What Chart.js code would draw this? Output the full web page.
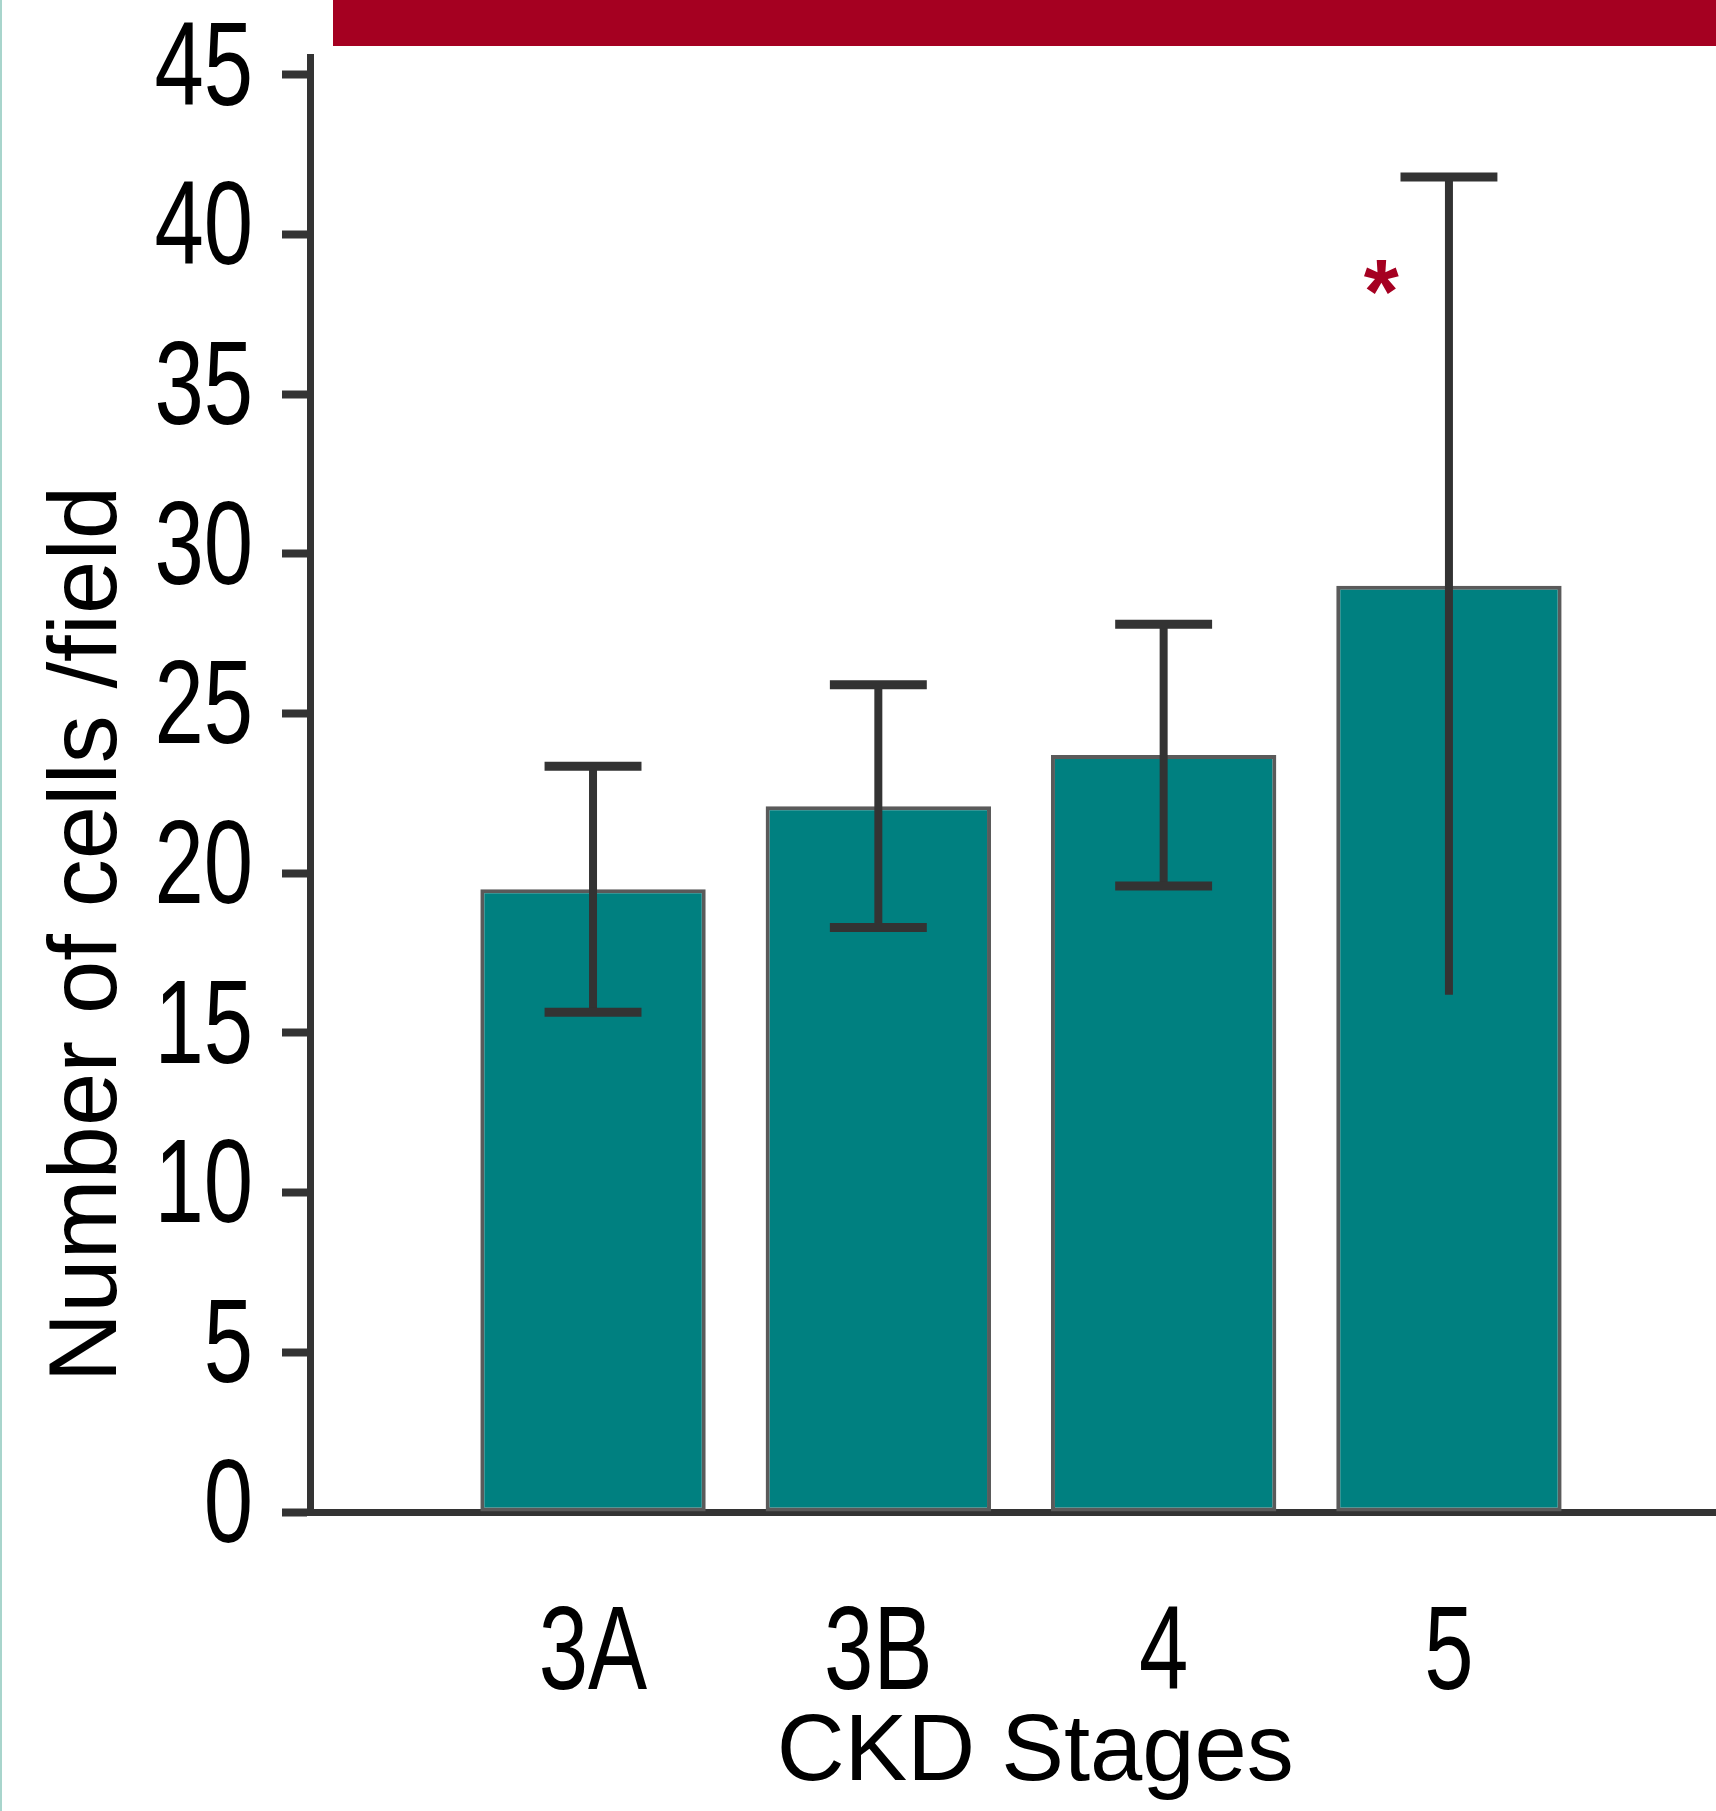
<!DOCTYPE html>
<html>
<head>
<meta charset="utf-8">
<script src="https://cdn.jsdelivr.net/npm/chart.js@4.4.1/dist/chart.umd.min.js"></script>
<style>
  html, body { margin: 0; padding: 0; overflow: hidden; background: #fff; }
  #wrap { position: relative; width: 1716px; height: 1811px; overflow: hidden; }
  #banner { position: absolute; left: 333px; top: 0; right: 0; height: 46px; background: #a50021; }
  #edge { position: absolute; left: 0; top: 0; width: 2px; height: 1811px; background: #a8d5cc; }
  canvas { position: absolute; left: 0; top: 0; }
</style>
</head>
<body>
<div id="wrap">
  <canvas id="chart" width="1716" height="1811" style="width:1716px;height:1811px"></canvas>
  <div id="banner"></div>
  <div id="edge"></div>
</div>
<script>
const stages = ['3A', '3B', '4', '5'];
const means = [19.5, 22.1, 23.7, 29.0];
const errors = [3.85, 3.8, 4.1, 12.8];
const lowerCaps = [true, true, true, false];
const marks = ['', '', '', '*'];
const yTicks = [0, 5, 10, 15, 20, 25, 30, 35, 40, 45];
const xTitle = 'CKD Stages';
const yTitle = 'Number of cells /field';

const regular = "'Liberation Sans', Arial, sans-serif";

// error bars and the significance mark, drawn after the bars
const errorBars = {
    id: 'errorBars',
    afterDatasetsDraw(chart) {
        const { ctx, scales: { y } } = chart;
        const meta = chart.getDatasetMeta(0);
        ctx.save();
        ctx.strokeStyle = '#333333';
        ctx.lineCap = 'butt';
        meta.data.forEach((bar, i) => {
            const top = y.getPixelForValue(means[i] + errors[i]);
            const bottom = y.getPixelForValue(means[i] - errors[i]);
            const half = bar.width * 0.215;
            ctx.lineWidth = 8;
            ctx.beginPath();
            ctx.moveTo(bar.x, top);
            ctx.lineTo(bar.x, bottom);
            ctx.stroke();
            ctx.lineWidth = 9;
            ctx.beginPath();
            ctx.moveTo(bar.x - half, top);
            ctx.lineTo(bar.x + half, top);
            if (lowerCaps[i]) {
                ctx.moveTo(bar.x - half, bottom);
                ctx.lineTo(bar.x + half, bottom);
            }
            ctx.stroke();
            if (marks[i]) {
                const my = y.getPixelForValue(means[i] + errors[i] * 0.74);
                ctx.fillStyle = '#a50021';
                ctx.font = 'bold 90px ' + regular;
                ctx.textAlign = 'center';
                ctx.textBaseline = 'alphabetic';
                ctx.fillText(marks[i], bar.x - bar.width * 0.3, my + 40);
            }
        });
        ctx.restore();
    }
};

// tick labels in a narrow face (squeezed Liberation Sans) and axis titles
const axisText = {
    id: 'axisText',
    afterDraw(chart) {
        const { ctx, chartArea, scales: { x, y } } = chart;
        const squeeze = 0.745;
        ctx.save();
        ctx.fillStyle = '#000';
        ctx.textBaseline = 'middle';

        ctx.font = '119px ' + regular;
        ctx.textAlign = 'right';
        yTicks.forEach(v => {
            ctx.save();
            ctx.translate(chartArea.left - 57, y.getPixelForValue(v) - 3);
            ctx.scale(squeeze, 1);
            ctx.fillText(String(v), 0, 0);
            ctx.restore();
        });
        ctx.textAlign = 'center';
        stages.forEach((s, i) => {
            ctx.save();
            ctx.translate(x.getPixelForValue(i + 1), chartArea.bottom + 144);
            ctx.scale(squeeze, 1);
            ctx.fillText(s, 0, 0);
            ctx.restore();
        });

        ctx.font = '94px ' + regular;
        ctx.fillText(xTitle, x.getPixelForValue(2.55), chartArea.bottom + 242);

        ctx.font = '96px ' + regular;
        ctx.translate(90, y.getPixelForValue(18.1));
        ctx.rotate(-Math.PI / 2);
        ctx.fillText(yTitle, 0, 0);
        ctx.restore();
    }
};

const ctx = document.getElementById('chart').getContext('2d');
new Chart(ctx, {
    type: 'bar',
    data: {
        datasets: [{
            data: stages.map((s, i) => ({ x: i + 1, y: means[i] })),
            backgroundColor: '#008080',
            borderColor: '#5a5a5a',
            borderWidth: 4,
            borderSkipped: false,
            barPercentage: 0.79,
            categoryPercentage: 1
        }]
    },
    options: {
        responsive: false,
        maintainAspectRatio: false,
        animation: false,
        layout: { padding: { top: 57, left: 0, right: 0, bottom: 0 } },
        plugins: {
            legend: { display: false },
            tooltip: { enabled: false }
        },
        scales: {
            x: {
                type: 'linear',
                min: 0.008,
                max: 4.936,
                offset: false,
                grid: { display: false },
                border: { display: true, color: '#333333', width: 7 },
                ticks: { display: false, stepSize: 1, includeBounds: false },
                afterFit: s => { s.height = 299; }
            },
            y: {
                min: 0,
                max: 45.56,
                grid: {
                    drawOnChartArea: false,
                    drawTicks: true,
                    tickLength: 28,
                    tickWidth: 8,
                    tickColor: '#333333'
                },
                border: { display: true, color: '#333333', width: 7 },
                afterBuildTicks: s => { s.ticks = yTicks.map(v => ({ value: v })); },
                ticks: { display: false },
                afterFit: s => { s.width = 310; }
            }
        }
    },
    plugins: [errorBars, axisText]
});
</script>
</body>
</html>
